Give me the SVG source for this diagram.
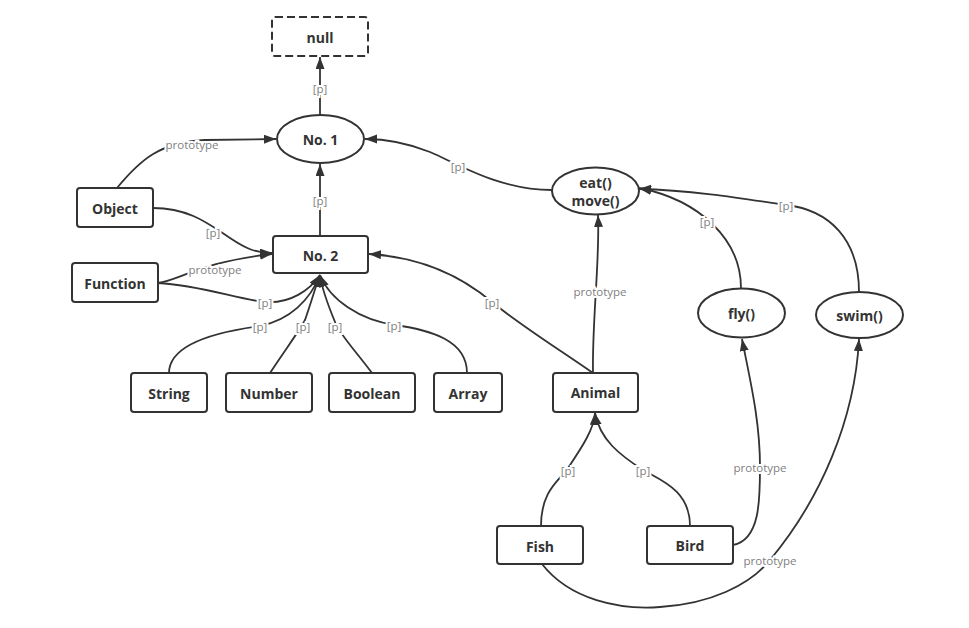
<svg xmlns="http://www.w3.org/2000/svg" width="969" height="628" viewBox="0 0 969 628">
<style>
.n{fill:#fff;stroke:#333;stroke-width:2}
.t{font-family:"Open Sans","DejaVu Sans",sans-serif;font-weight:bold;font-size:14px;fill:#333;text-anchor:middle;dominant-baseline:central}
.c path{fill:none;stroke:#333;stroke-width:1.8;marker-end:url(#a)}
.l{font-family:"Open Sans","DejaVu Sans",sans-serif;font-size:11.5px;fill:#808080;text-anchor:middle;dominant-baseline:central;stroke:#fff;stroke-width:4;paint-order:stroke}
</style>
<defs>
<marker id="a" markerUnits="userSpaceOnUse" markerWidth="13" markerHeight="10" refX="12" refY="4.5" orient="auto">
<path d="M0,0 L12,4.5 L0,9 z" fill="#333"/>
</marker>
</defs>
<rect width="969" height="628" fill="#fff"/>
<g class="c" id="connectors">
<path d="M320,115 L320,57"/>
<path d="M320,236 L320,164"/>
<path d="M117,188 C140,160 160,142 205,140 L276,139"/>
<path d="M153,208 C190,208 210,225 230,238 C245,248 255,253 272,253"/>
<path d="M158,283 C180,280 200,262 272,254"/>
<path d="M158,283 C200,285 240,300 265,302 C290,304 310,290 320,275"/>
<path d="M169,373 C169,340 230,330 260,326 C290,320 310,300 320,275"/>
<path d="M270,373 C285,350 300,330 305,320 C312,300 316,285 320,275"/>
<path d="M372,373 C355,350 340,335 335,322 C328,305 322,290 320,275"/>
<path d="M467,373 C467,340 430,330 395,325 C360,320 330,300 320,275"/>
<path d="M593,373 C560,350 520,325 492,302 C460,275 420,257 369,254"/>
<path d="M593,373 C592,320 600,260 598,215"/>
<path d="M552,190 C500,190 460,165 430,152 C405,142 385,139 365,139"/>
<path d="M741,288 C741,240 700,200 639,188"/>
<path d="M859,292 C859,240 830,210 786,205 C740,198 690,190 639,189"/>
<path d="M541,526 C541,490 560,480 568,468 C580,450 594,430 595,413"/>
<path d="M690,526 C690,490 660,480 643,470 C620,455 600,440 595,413"/>
<path d="M733,545 C760,540 760,500 760,467 C760,420 750,380 742,339"/>
<path d="M542,564 C570,600 620,610 660,607 C710,604 750,585 770,560 C820,500 855,420 859,339"/>
<text class="l" x="320" y="88">[p]</text>
<text class="l" x="320" y="200">[p]</text>
<text class="l" x="192" y="144">prototype</text>
<text class="l" x="213" y="232">[p]</text>
<text class="l" x="215" y="269">prototype</text>
<text class="l" x="265" y="302">[p]</text>
<text class="l" x="260" y="326">[p]</text>
<text class="l" x="303" y="326">[p]</text>
<text class="l" x="335" y="326">[p]</text>
<text class="l" x="394" y="325">[p]</text>
<text class="l" x="492" y="302">[p]</text>
<text class="l" x="600" y="291">prototype</text>
<text class="l" x="458" y="166">[p]</text>
<text class="l" x="707" y="221">[p]</text>
<text class="l" x="786" y="205">[p]</text>
<text class="l" x="568" y="470">[p]</text>
<text class="l" x="643" y="470">[p]</text>
<text class="l" x="760" y="467">prototype</text>
<text class="l" x="770" y="560">prototype</text>
</g>
<g id="null"><rect class="n" x="272" y="17" width="96" height="39" rx="3" stroke-dasharray="8,4"/><text class="t" x="320" y="37">null</text></g>
<g id="no1"><ellipse class="n" cx="320.5" cy="139" rx="43.5" ry="24"/><text class="t" x="320.5" y="139">No. 1</text></g>
<g id="object"><rect class="n" x="77" y="188" width="76" height="39" rx="3"/><text class="t" x="115" y="208">Object</text></g>
<g id="no2"><rect class="n" x="273" y="236" width="95" height="37" rx="3"/><text class="t" x="320.5" y="255">No. 2</text></g>
<g id="function"><rect class="n" x="72" y="263" width="86" height="39" rx="3"/><text class="t" x="115" y="283">Function</text></g>
<g id="string"><rect class="n" x="131" y="373" width="76" height="39" rx="3"/><text class="t" x="169" y="393">String</text></g>
<g id="number"><rect class="n" x="226" y="373" width="86" height="39" rx="3"/><text class="t" x="269" y="393">Number</text></g>
<g id="boolean"><rect class="n" x="329" y="373" width="86" height="39" rx="3"/><text class="t" x="372" y="393">Boolean</text></g>
<g id="array"><rect class="n" x="434" y="373" width="68" height="39" rx="3"/><text class="t" x="468" y="393">Array</text></g>
<g id="animal"><rect class="n" x="553" y="373" width="85" height="39" rx="3"/><text class="t" x="595.5" y="392">Animal</text></g>
<g id="eatmove"><ellipse class="n" cx="595.5" cy="191" rx="43.5" ry="23.5"/><text class="t" x="595.5" y="182">eat()</text><text class="t" x="595.5" y="200">move()</text></g>
<g id="fly"><ellipse class="n" cx="741.5" cy="313" rx="43.5" ry="24.5"/><text class="t" x="741.5" y="313">fly()</text></g>
<g id="swim"><ellipse class="n" cx="859.5" cy="315" rx="43.5" ry="23"/><text class="t" x="859.5" y="315">swim()</text></g>
<g id="fish"><rect class="n" x="497" y="526" width="86" height="38" rx="3"/><text class="t" x="540" y="546">Fish</text></g>
<g id="bird"><rect class="n" x="647" y="526" width="86" height="38" rx="3"/><text class="t" x="690" y="545">Bird</text></g>
</svg>
